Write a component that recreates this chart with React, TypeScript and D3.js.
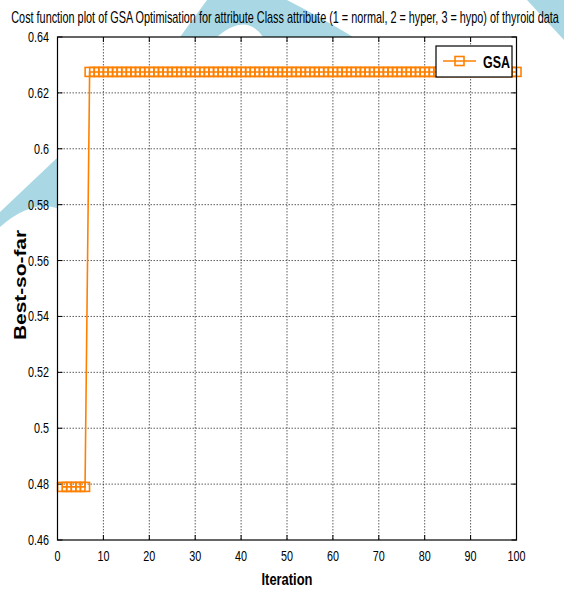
import React, { useLayoutEffect, useRef, useState } from 'react';
import * as d3 from 'd3';

// best-so-far cost per iteration (iterations 1..100)
const bestSoFar = [
  0.479, 0.479, 0.479, 0.479, 0.479, 0.479, 0.6275, 0.6275, 0.6275, 0.6275,
  0.6275, 0.6275, 0.6275, 0.6275, 0.6275, 0.6275, 0.6275, 0.6275, 0.6275, 0.6275,
  0.6275, 0.6275, 0.6275, 0.6275, 0.6275, 0.6275, 0.6275, 0.6275, 0.6275, 0.6275,
  0.6275, 0.6275, 0.6275, 0.6275, 0.6275, 0.6275, 0.6275, 0.6275, 0.6275, 0.6275,
  0.6275, 0.6275, 0.6275, 0.6275, 0.6275, 0.6275, 0.6275, 0.6275, 0.6275, 0.6275,
  0.6275, 0.6275, 0.6275, 0.6275, 0.6275, 0.6275, 0.6275, 0.6275, 0.6275, 0.6275,
  0.6275, 0.6275, 0.6275, 0.6275, 0.6275, 0.6275, 0.6275, 0.6275, 0.6275, 0.6275,
  0.6275, 0.6275, 0.6275, 0.6275, 0.6275, 0.6275, 0.6275, 0.6275, 0.6275, 0.6275,
  0.6275, 0.6275, 0.6275, 0.6275, 0.6275, 0.6275, 0.6275, 0.6275, 0.6275, 0.6275,
  0.6275, 0.6275, 0.6275, 0.6275, 0.6275, 0.6275, 0.6275, 0.6275, 0.6275, 0.6275,
];
const xTicks = [0, 10, 20, 30, 40, 50, 60, 70, 80, 90, 100];
const yTicks = [0.46, 0.48, 0.5, 0.52, 0.54, 0.56, 0.58, 0.6, 0.62, 0.64];
const seriesName = 'GSA';
const title =
  'Cost function plot of GSA Optimisation for attribute Class attribute (1 = normal, 2 = hyper, 3 = hypo) of thyroid data';

const W = 564, H = 589;
const L = 57.5, R = 516.5, T = 37, B = 540;
const ORANGE = '#ff8000';
const FONT = "'Liberation Sans', Arial, sans-serif";
const SQ = 4.5; // half marker size

function Narrow({ x, y, children, anchor = 'middle', size = 15, sx = 0.72, weight = 'normal' }: any) {
  return (
    <text
      transform={`translate(${x},${y}) scale(${sx},1)`}
      textAnchor={anchor}
      fontSize={size}
      fontWeight={weight}
      fontFamily={FONT}
      fill="#000"
    >
      {children}
    </text>
  );
}

// squeezes a text into a given width with a scale transform
function Fitted({ x, y, width, size, weight = 'normal', rotate = 0, children }: any) {
  const ref = useRef<SVGTextElement>(null);
  const [sx, setSx] = useState(0.68);
  useLayoutEffect(() => {
    if (ref.current) {
      const len = ref.current.getComputedTextLength();
      if (len > 0) setSx(width / len);
    }
  }, [width, children]);
  return (
    <text
      ref={ref}
      transform={`translate(${x},${y}) rotate(${rotate}) scale(${sx},1)`}
      textAnchor="middle"
      fontSize={size}
      fontWeight={weight}
      fontFamily={FONT}
      fill="#000"
    >
      {children}
    </text>
  );
}

export default function App() {
  const x = d3.scaleLinear().domain([0, 100]).range([L, R]);
  const y = d3.scaleLinear().domain([0.46, 0.64]).range([B, T]);
  const pts: [number, number][] = bestSoFar.map((v, i) => [i + 1, v]);
  const line = d3.line<[number, number]>().x((d) => x(d[0])).y((d) => y(d[1]));
  const fmt = d3.format('~g');

  return (
    <svg width={W} height={H} style={{ position: 'absolute', left: 0, top: 0, background: '#fff' }}>
      {/* background watermark */}
      <g fill="#a9d8e4">
        <path d="M180,37 L207,0 L287,0 Q322,18 353,37 L263,37 Q246,12 217,37 Z" />
        <path d="M527,0 L564,0 L564,40 Z" />
        <path d="M0,212 L57,158 L57,208 Q30,200 0,227 Z" />
      </g>
      <rect x={L} y={T} width={R - L} height={B - T} fill="#fff" />

      {/* grid */}
      <g stroke="#333" strokeWidth={0.8} strokeDasharray="1.5,1.5">
        {xTicks.slice(1, -1).map((t) => (
          <line key={'gx' + t} x1={x(t)} x2={x(t)} y1={T} y2={B} />
        ))}
        {yTicks.slice(1, -1).map((t) => (
          <line key={'gy' + t} x1={L} x2={R} y1={y(t)} y2={y(t)} />
        ))}
      </g>
      {/* tick marks */}
      <g stroke="#000" strokeWidth={1}>
        {xTicks.map((t) => (
          <g key={'tx' + t}>
            <line x1={x(t)} x2={x(t)} y1={B} y2={B - 5} />
            <line x1={x(t)} x2={x(t)} y1={T} y2={T + 5} />
          </g>
        ))}
        {yTicks.map((t) => (
          <g key={'ty' + t}>
            <line x1={L} x2={L + 5} y1={y(t)} y2={y(t)} />
            <line x1={R} x2={R - 5} y1={y(t)} y2={y(t)} />
          </g>
        ))}
      </g>

      {/* series */}
      <path d={line(pts) || ''} fill="none" stroke={ORANGE} strokeWidth={1.6} />
      <g fill="none" stroke={ORANGE} strokeWidth={1.6}>
        {pts.map((d) => (
          <rect key={'m' + d[0]} x={x(d[0]) - SQ} y={y(d[1]) - SQ} width={SQ * 2} height={SQ * 2} />
        ))}
      </g>

      <rect x={L} y={T} width={R - L} height={B - T} fill="none" stroke="#000" strokeWidth={1.2} />

      {/* tick labels */}
      {xTicks.map((t) => (
        <Narrow key={'lx' + t} x={x(t)} y={561}>
          {fmt(t)}
        </Narrow>
      ))}
      {yTicks.map((t) => (
        <Narrow key={'ly' + t} x={49} y={y(t) + 5} anchor="end">
          {fmt(t)}
        </Narrow>
      ))}

      {/* legend */}
      <rect x={436} y={46} width={76} height={31} fill="#fff" stroke="#000" strokeWidth={1.2} />
      <line x1={443} x2={476} y1={61} y2={61} stroke={ORANGE} strokeWidth={1.6} />
      <rect x={459.5 - SQ} y={61 - SQ} width={SQ * 2} height={SQ * 2} fill="none" stroke={ORANGE} strokeWidth={1.6} />
      <Narrow x={483} y={67.5} anchor="start" size={16} weight="bold" sx={0.78}>
        {seriesName}
      </Narrow>

      {/* titles */}
      <Fitted x={285} y={23} width={548} size={16}>
        {title}
      </Fitted>
      <Fitted x={(L + R) / 2} y={585} width={51} size={17} weight="bold">
        Iteration
      </Fitted>
      <Fitted x={26} y={285} width={110} size={16} weight="bold" rotate={-90}>
        Best-so-far
      </Fitted>
    </svg>
  );
}
